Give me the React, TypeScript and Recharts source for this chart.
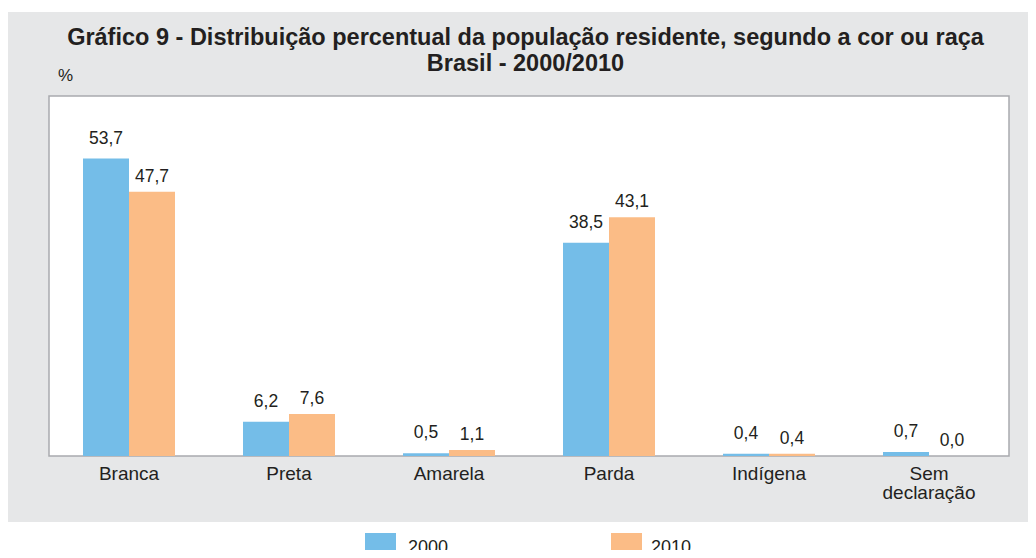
import { BarChart, Bar, XAxis, YAxis, CartesianGrid, LabelList, ReferenceArea } from "recharts";

const categories = ["Branca", "Preta", "Amarela", "Parda", "Indígena", "Sem declaração"];
const values2000 = [53.7, 6.2, 0.5, 38.5, 0.4, 0.7];
const values2010 = [47.7, 7.6, 1.1, 43.1, 0.4, 0.0];
const years = ["2000", "2010"];
const yDomain = [0, 65];

const BLUE = "#74bde8";
const ORANGE = "#fbbc86";
const TEXT = "#231f20";
const BORDER = "#a9abae";
const FONT = "'Liberation Sans', Arial, sans-serif";

const data = categories.map((name, i) => ({
  name,
  y2000: values2000[i],
  y2010: values2010[i],
}));

const fmt = (v: any) => Number(v).toFixed(1).replace(".", ",");
// keep zero bars "present" so their labels still get drawn
const tinyForZero = (v: any) => (Number(v) === 0 ? 0.01 : 0);

const CategoryTick = ({ x, y, payload }: any) => {
  const words = String(payload.value).split(" ");
  return (
    <text x={x} y={y} textAnchor="middle" fill={TEXT} fontSize={19} fontFamily={FONT}>
      {words.map((w, i) => (
        <tspan key={i} x={x} dy={i === 0 ? 16 : 19}>
          {w}
        </tspan>
      ))}
    </text>
  );
};

export default function App() {
  return (
    <div
      style={{
        position: "relative",
        margin: -8,
        width: 1036,
        height: 558,
        background: "#fff",
        fontFamily: FONT,
        color: TEXT,
        overflow: "hidden",
      }}
    >
      <div
        style={{
          position: "absolute",
          left: 7,
          top: 12,
          width: 1029,
          height: 510,
          background: "#e6e7e8",
        }}
      />
      <div
        style={{
          position: "absolute",
          left: 15,
          top: 24,
          width: 1021,
          textAlign: "center",
          fontWeight: "bold",
          fontSize: 23.5,
          lineHeight: "26px",
        }}
      >
        <div>Gráfico 9 - Distribuição percentual da população residente, segundo a cor ou raça</div>
        <div>Brasil - 2000/2010</div>
      </div>
      <div style={{ position: "absolute", left: 58, top: 66, fontSize: 17 }}>%</div>
      <div style={{ position: "absolute", left: 0, top: 0 }}>
        <BarChart
          width={1036}
          height={522}
          data={data}
          margin={{ top: 96, left: 49, right: 27, bottom: 10 }}
          barGap={0}
          barSize={46}
        >
          <CartesianGrid fill="#fff" horizontal={false} vertical={false} />
          <XAxis
            dataKey="name"
            height={56}
            axisLine={false}
            tickLine={false}
            interval={0}
            tick={<CategoryTick />}
          />
          <YAxis domain={yDomain} width={0} axisLine={false} tickLine={false} tick={false} />
          <Bar dataKey="y2000" name={years[0]} fill={BLUE} isAnimationActive={false}>
            <LabelList
              dataKey="y2000"
              position="top"
              offset={15}
              formatter={fmt}
              fill={TEXT}
              fontSize={17.5}
              fontFamily={FONT}
            />
          </Bar>
          <Bar
            dataKey="y2010"
            name={years[1]}
            fill={ORANGE}
            minPointSize={tinyForZero}
            isAnimationActive={false}
          >
            <LabelList
              dataKey="y2010"
              position="top"
              offset={10}
              formatter={fmt}
              fill={TEXT}
              fontSize={17.5}
              fontFamily={FONT}
            />
          </Bar>
          <ReferenceArea
            y1={yDomain[0]}
            y2={yDomain[1]}
            fill="none"
            stroke={BORDER}
            strokeWidth={1.5}
            ifOverflow="visible"
          />
        </BarChart>
      </div>
      <div style={{ position: "absolute", left: 365, top: 533, width: 31, height: 25, background: BLUE }} />
      <div style={{ position: "absolute", left: 408, top: 537, fontSize: 18 }}>{years[0]}</div>
      <div style={{ position: "absolute", left: 611, top: 533, width: 31, height: 25, background: ORANGE }} />
      <div style={{ position: "absolute", left: 651, top: 537, fontSize: 18 }}>{years[1]}</div>
    </div>
  );
}
